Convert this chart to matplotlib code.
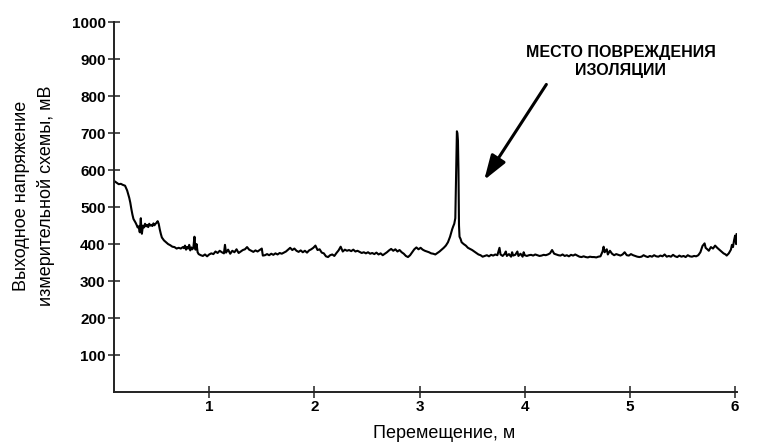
import matplotlib
matplotlib.use("Agg")
import matplotlib.pyplot as plt

plt.rcParams['font.family'] = ['Liberation Sans', 'DejaVu Sans']

# Displacement, m
x_m = [0.10, 0.12, 0.14, 0.16, 0.18, 0.20, 0.22, 0.24, 0.25, 0.26, 0.27, 0.28, 0.30, 0.31, 0.32, 0.33,
       0.34, 0.35, 0.355, 0.36, 0.37, 0.38, 0.39, 0.40, 0.41, 0.42, 0.43, 0.44, 0.45, 0.46, 0.47, 0.48,
       0.49, 0.50, 0.51, 0.52, 0.53, 0.54, 0.55, 0.57, 0.59, 0.61, 0.63, 0.65, 0.67, 0.69, 0.71, 0.73,
       0.75, 0.76, 0.77, 0.78, 0.79, 0.80, 0.81, 0.82, 0.83, 0.84, 0.85, 0.86, 0.87, 0.88, 0.89, 0.90,
       0.92, 0.94, 0.96, 0.98, 1.00, 1.02, 1.04, 1.06, 1.08, 1.10, 1.12, 1.14, 1.15, 1.16, 1.18, 1.20,
       1.22, 1.24, 1.26, 1.28, 1.30, 1.32, 1.34, 1.36, 1.38, 1.40, 1.42, 1.44, 1.46, 1.48, 1.50, 1.51,
       1.53, 1.55, 1.57, 1.59, 1.61, 1.63, 1.65, 1.67, 1.69, 1.71, 1.73, 1.75, 1.77, 1.79, 1.81, 1.83,
       1.85, 1.87, 1.89, 1.91, 1.93, 1.95, 1.97, 1.99, 2.01, 2.03, 2.05, 2.07, 2.09, 2.11, 2.13, 2.15,
       2.17, 2.19, 2.21, 2.23, 2.25, 2.27, 2.29, 2.31, 2.33, 2.35, 2.37, 2.39, 2.41, 2.43, 2.45, 2.47,
       2.49, 2.51, 2.53, 2.55, 2.57, 2.59, 2.61, 2.63, 2.65, 2.67, 2.69, 2.71, 2.73, 2.75, 2.77, 2.79,
       2.81, 2.83, 2.85, 2.87, 2.89, 2.91, 2.93, 2.95, 2.97, 2.99, 3.01, 3.03, 3.05, 3.07, 3.09, 3.11,
       3.13, 3.15, 3.17, 3.19, 3.21, 3.23, 3.25, 3.27, 3.29, 3.31, 3.32, 3.33, 3.34, 3.35, 3.355, 3.36,
       3.365, 3.37, 3.375, 3.38, 3.39, 3.40, 3.42, 3.44, 3.46, 3.48, 3.50, 3.52, 3.54, 3.56, 3.58, 3.60,
       3.62, 3.64, 3.66, 3.68, 3.70, 3.72, 3.74, 3.76, 3.77, 3.79, 3.81, 3.82, 3.83, 3.85, 3.87, 3.88,
       3.89, 3.91, 3.93, 3.94, 3.96, 3.98, 3.99, 4.00, 4.02, 4.04, 4.06, 4.08, 4.10, 4.12, 4.14, 4.16,
       4.18, 4.20, 4.22, 4.24, 4.26, 4.28, 4.30, 4.32, 4.34, 4.36, 4.38, 4.40, 4.42, 4.44, 4.46, 4.48,
       4.50, 4.52, 4.54, 4.56, 4.58, 4.60, 4.62, 4.64, 4.66, 4.68, 4.70, 4.72, 4.74, 4.75, 4.76, 4.78,
       4.79, 4.81, 4.83, 4.85, 4.87, 4.89, 4.91, 4.93, 4.95, 4.97, 4.99, 5.01, 5.03, 5.05, 5.07, 5.09,
       5.11, 5.13, 5.15, 5.17, 5.19, 5.21, 5.23, 5.25, 5.27, 5.29, 5.31, 5.33, 5.35, 5.37, 5.39, 5.41,
       5.43, 5.45, 5.47, 5.49, 5.51, 5.53, 5.55, 5.57, 5.59, 5.61, 5.63, 5.65, 5.67, 5.69, 5.71, 5.72,
       5.74, 5.75, 5.77, 5.79, 5.81, 5.83, 5.85, 5.87, 5.89, 5.91, 5.92, 5.94, 5.96, 5.97, 5.98, 5.99,
       6.00, 6.01, 6.015]

# Output voltage, mV
u_mv = [570, 566, 562, 563, 560, 558, 545, 525, 512, 495, 480, 468, 458, 452, 445, 448,
        432, 470, 440, 428, 450, 445, 455, 448, 452, 446, 455, 450, 452, 449, 456, 451,
        455, 458, 462, 455, 440, 428, 418, 410, 405, 400, 397, 393, 392, 388, 390, 388,
        392, 389, 396, 385, 392, 388, 398, 383, 391, 386, 392, 420, 385, 400, 378, 373,
        370, 368, 372, 367, 372, 375, 373, 380, 376, 382, 378, 375, 398, 377, 385, 374,
        382, 378, 386, 376, 380, 384, 386, 392, 385, 382, 379, 383, 380, 384, 388, 369,
        370, 373, 370, 374, 371, 375, 372, 376, 374, 377, 380, 385, 390, 384, 388, 382,
        379, 383, 378, 382, 377, 383, 386, 390, 396, 384, 386, 377, 375, 367, 365, 370,
        372, 368, 376, 383, 393, 380, 385, 382, 384, 381, 385, 380, 382, 379, 376, 378,
        375, 378, 374, 376, 373, 377, 372, 375, 370, 374, 378, 383, 387, 382, 386, 380,
        384, 378, 374, 368, 365, 370, 378, 386, 391, 386, 390, 385, 382, 380, 378, 375,
        374, 372, 376, 380, 385, 390, 396, 405, 420, 440, 448, 455, 470, 620, 705, 700,
        680, 600, 450, 420, 414, 405, 400, 396, 390, 387, 384, 380, 376, 372, 370, 366,
        368, 370, 367, 371, 369, 372, 370, 390, 372, 368, 374, 380, 368, 373, 366, 378,
        369, 371, 380, 368, 374, 366, 378, 370, 368, 370, 371, 369, 372, 370, 368, 369,
        371, 370, 372, 375, 384, 374, 372, 370, 369, 372, 368, 370, 367, 371, 369, 372,
        369, 366, 365, 367, 365, 364, 366, 365, 365, 364, 366, 367, 380, 393, 378, 386,
        372, 382, 374, 370, 373, 371, 369, 372, 378, 370, 369, 373, 370, 368, 366, 365,
        366, 370, 367, 365, 368, 366, 370, 367, 366, 369, 367, 372, 366, 368, 366, 371,
        367, 365, 369, 366, 368, 365, 370, 367, 366, 368, 367, 370, 378, 395, 402, 390,
        385, 382, 392, 388, 396, 390, 385, 380, 375, 372, 369, 375, 385, 398, 392, 410,
        423, 400, 427]

x_ticks = [1, 2, 3, 4, 5, 6]
y_ticks = [100, 200, 300, 400, 500, 600, 700, 800, 900, 1000]

fig = plt.figure(figsize=(7.6, 4.44), dpi=100)
ax = fig.add_axes([0.150, 0.117, 0.820, 0.833])

ax.plot(x_m, u_mv, color='black', linewidth=1.5)

ax.set_xlim(0.095, 6.02)
ax.set_ylim(0, 1000)
ax.set_xticks(x_ticks)
ax.set_yticks(y_ticks)
ax.set_xticklabels([str(t) for t in x_ticks], fontweight='bold', fontsize=11)
ax.set_yticklabels([str(t) for t in y_ticks], fontweight='bold', fontsize=11)
ax.tick_params(direction='inout', length=8, width=1.1, color='#222222', pad=2)

for s in ['top', 'right']:
    ax.spines[s].set_visible(False)
for s in ['left', 'bottom']:
    ax.spines[s].set_linewidth(1.4)
    ax.spines[s].set_color('#222222')

ax.set_xlabel('Перемещение, м', fontsize=13)
ax.xaxis.set_label_coords(0.53, -0.09)
ax.set_ylabel('Выходное напряжение\nизмерительной схемы, мВ', fontsize=13, linespacing=1.45)
ax.yaxis.set_label_coords(-0.095, 0.53)

ax.annotate('', xy=(3.60, 567), xytext=(4.22, 838),
            arrowprops=dict(arrowstyle='-|>,head_length=1.5,head_width=0.5', color='black', lw=2.2))
ax.text(4.91, 893, 'МЕСТО ПОВРЕЖДЕНИЯ\nИЗОЛЯЦИИ', ha='center', va='center',
        fontsize=11.5, fontweight='bold', linespacing=1.25)

fig.savefig('out.png', dpi=100)
